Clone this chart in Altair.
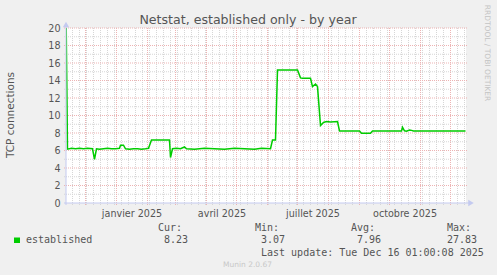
import altair as alt
import pandas as pd

# ---- data ----
dates = [
    "2024-11-11", "2024-11-13", "2024-11-17", "2024-11-21", "2024-11-25", "2024-11-29",
    "2024-12-03", "2024-12-08", "2024-12-10", "2024-12-12", "2024-12-15", "2024-12-19",
    "2024-12-23", "2024-12-27", "2024-12-31", "2025-01-04", "2025-01-05", "2025-01-08",
    "2025-01-10", "2025-01-14", "2025-01-18", "2025-01-22", "2025-01-26", "2025-01-30",
    "2025-02-02", "2025-02-05", "2025-02-23", "2025-02-24", "2025-02-26", "2025-03-02",
    "2025-03-06", "2025-03-10", "2025-03-12", "2025-03-20", "2025-03-30", "2025-04-09",
    "2025-04-19", "2025-04-29", "2025-05-09", "2025-05-19", "2025-05-26", "2025-06-04",
    "2025-06-06", "2025-06-09", "2025-06-11", "2025-07-01", "2025-07-04", "2025-07-06",
    "2025-07-14", "2025-07-16", "2025-07-19", "2025-07-21", "2025-07-24", "2025-07-27",
    "2025-07-30", "2025-08-03", "2025-08-10", "2025-08-12", "2025-09-01", "2025-09-03",
    "2025-09-12", "2025-09-14", "2025-10-13", "2025-10-14", "2025-10-16", "2025-10-18",
    "2025-10-21", "2025-10-23", "2025-10-25", "2025-12-16",
]
established = [
    27.83, 6.15, 6.25, 6.2, 6.25, 6.2,
    6.25, 6.2, 5.0, 6.2, 6.15, 6.2,
    6.25, 6.2, 6.2, 6.25, 6.6, 6.6,
    6.2, 6.15, 6.2, 6.2, 6.15, 6.2,
    6.25, 7.2, 7.2, 5.2, 6.2, 6.25,
    6.2, 6.4, 6.2, 6.15, 6.25, 6.2,
    6.15, 6.25, 6.2, 6.15, 6.25, 6.2,
    7.2, 7.2, 15.2, 15.2, 14.3, 14.25,
    14.25, 13.3, 13.6, 13.3, 8.85, 9.2,
    9.3, 9.25, 9.3, 8.23, 8.23, 7.98,
    7.98, 8.23, 8.23, 8.65, 8.25, 8.2,
    8.35, 8.3, 8.23, 8.23,
]

month_starts = [
    "2024-12-01", "2025-01-01", "2025-02-01", "2025-03-01", "2025-04-01", "2025-05-01",
    "2025-06-01", "2025-07-01", "2025-08-01", "2025-09-01", "2025-10-01", "2025-11-01",
    "2025-12-01",
]
week_starts = [d.strftime("%Y-%m-%d") for d in pd.date_range("2024-11-18", "2025-12-15", freq="W-MON")]
y_major = [2, 4, 6, 8, 10, 12, 14, 16, 18, 20]
y_minor = [1, 3, 5, 7, 9, 11, 13, 15, 17, 19]
y_labels = [0, 2, 4, 6, 8, 10, 12, 14, 16, 18, 20]
mois = ["janvier", "février", "mars", "avril", "mai", "juin", "juillet", "août",
        "septembre", "octobre", "novembre", "décembre"]

legend_name = "established"
stat_heads = ["Cur:", "Min:", "Avg:", "Max:"]
stat_values = ["8.23", "3.07", "7.96", "27.83"]
last_update = "Last update: Tue Dec 16 01:00:08 2025"

# ---- frames ----
df = pd.DataFrame({"date": pd.to_datetime(dates), "value": established})
df_month = pd.DataFrame({"date": pd.to_datetime(month_starts)})
df_week = pd.DataFrame({"date": pd.to_datetime(week_starts)})
df_ymaj = pd.DataFrame({"value": y_major})
df_ymin = pd.DataFrame({"value": y_minor})

TXT = "#555555"
AXC = "#C4CAF0"
MINOR = "#D6D6D6"
MAJOR = "#EDB3B3"
SANS = "DejaVu Sans"
MONO = "DejaVu Sans Mono"

x_scale = alt.Scale(domain=[alt.DateTime(year=2024, month=11, date=11, hours=12),
                            alt.DateTime(year=2025, month=12, date=16, hours=12)])
y_scale = alt.Scale(domain=[0, 20], nice=False, zero=False)

x_axis = alt.Axis(
    values=[alt.DateTime(year=2025, month=m, date=16) for m in (1, 4, 7, 10)],
    labelExpr="[" + ",".join("'%s'" % m for m in mois) + "][month(datum.value)] + ' ' + year(datum.value)",
    grid=False, ticks=False, domain=False, labelPadding=5,
    labelFont=SANS, labelFontSize=9.6, labelColor=TXT, title=None,
)
y_axis = alt.Axis(
    values=y_labels, grid=False, ticks=False, domain=False, labelPadding=6,
    labelFont=SANS, labelFontSize=9.6, labelColor=TXT, title=None,
)


def X():
    return alt.X("date:T", scale=x_scale, axis=x_axis, title=None)


def Y():
    return alt.Y("value:Q", scale=y_scale, axis=y_axis, title=None)


minor_v = alt.Chart(df_week).mark_rule(color=MINOR, strokeWidth=1, strokeDash=[1, 1]).encode(
    x=X(), y=alt.value(0), y2=alt.value(177))
minor_h = alt.Chart(df_ymin).mark_rule(color=MINOR, strokeWidth=1, strokeDash=[1, 1]).encode(
    y=Y(), x=alt.value(-2), x2=alt.value(402))
major_v = alt.Chart(df_month).mark_rule(color=MAJOR, strokeWidth=1, strokeDash=[1, 1]).encode(
    x=X(), y=alt.value(0), y2=alt.value(178))
major_h = alt.Chart(df_ymaj).mark_rule(color=MAJOR, strokeWidth=1, strokeDash=[1, 1]).encode(
    y=Y(), x=alt.value(-2), x2=alt.value(402))

line = alt.Chart(df).mark_line(color="#00CC00", strokeWidth=1.5, clip=True).encode(x=X(), y=Y())

one = alt.Data(values=[{}])

axis_y = alt.Chart(one).mark_rule(color=AXC, strokeWidth=1).encode(
    x=alt.value(0), y=alt.value(-2), y2=alt.value(177))
axis_x = alt.Chart(one).mark_rule(color=AXC, strokeWidth=1).encode(
    y=alt.value(175), x=alt.value(-2), x2=alt.value(403))
arrow_up = alt.Chart(one).mark_point(shape="triangle-up", filled=True, color=AXC, size=40, opacity=1).encode(
    x=alt.value(0), y=alt.value(-3.5))
arrow_right = alt.Chart(one).mark_point(shape="triangle-right", filled=True, color=AXC, size=40, opacity=1).encode(
    x=alt.value(405), y=alt.value(175))


def label(text, x, y, font=SANS, size=10, color=TXT, align="left", baseline="alphabetic", angle=0):
    kw = dict(font=font, fontSize=size, color=color, align=align, baseline=baseline)
    if angle:
        kw["angle"] = angle
    return alt.Chart(one).mark_text(**kw).encode(
        x=alt.value(x), y=alt.value(y), text=alt.value(text))


OX, OY = 66, 28  # plot origin in page pixels
texts = [
    label("Netstat, established only - by year", 248 - OX, 24 - OY, size=12.6, align="center"),
    label("TCP connections", 10.5 - OX, 115 - OY, size=10.5, align="center", baseline="middle", angle=270),
    label("RRDTOOL / TOBI OETIKER", 487 - OX, 53 - OY, size=7.5, color="#C4C4C4", align="center",
          baseline="middle", angle=90),
    label(legend_name, 26 - OX, 243 - OY, font=MONO, size=10),
    label(last_update, 261 - OX, 255.5 - OY, font=MONO, size=10),
    label("Munin 2.0.67", 247.5 - OX, 266.5 - OY, size=7.5, color="#C8C8C8", align="center"),
]
for hx, vx, h, v in zip([158, 255, 351, 447], [164, 261, 357, 447], stat_heads, stat_values):
    texts.append(label(h, hx - OX, 230.5 - OY, font=MONO, size=10))
    texts.append(label(v, vx - OX, 243 - OY, font=MONO, size=10))

legend_box = alt.Chart(one).mark_rect(color="#00CC00").encode(
    x=alt.value(14 - OX), x2=alt.value(20 - OX), y=alt.value(237.5 - OY), y2=alt.value(243 - OY))

chart = alt.layer(
    minor_v, minor_h, major_v, major_h, line, axis_y, axis_x, arrow_up, arrow_right, legend_box, *texts
).properties(
    width=400, height=175, autosize="none",
    padding={"left": OX, "top": OY, "right": 497 - OX - 400, "bottom": 275 - OY - 175},
    background="#F0F0F0",
).configure_view(fill="white", stroke=None)

chart.save("out.html", embed_options={"renderer": "svg", "actions": False})
